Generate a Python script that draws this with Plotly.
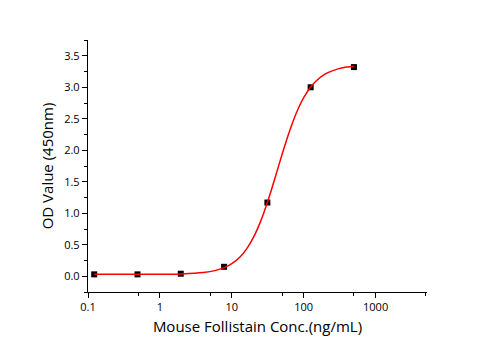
import plotly.graph_objects as go

# Measured data points
conc = [0.122, 0.488, 1.95, 7.81, 31.25, 125, 500]
od = [0.03, 0.03, 0.04, 0.15, 1.17, 3.00, 3.32]

# Fitted curve, values
curve_x = [0.122, 1, 2, 4, 6, 8, 10, 13, 16, 20, 25, 30, 35, 40, 50, 60, 70, 85, 100, 125, 150, 200, 300, 400, 500]
curve_y = [0.03, 0.032, 0.037, 0.058, 0.093, 0.140, 0.199, 0.305, 0.430, 0.616, 0.863, 1.110, 1.346,
           1.563, 1.933, 2.219, 2.438, 2.674, 2.834, 3.003, 3.104, 3.211, 3.292, 3.322, 3.335]

x_ticks = [0.1, 1, 10, 100, 1000]
x_ticktext = ["0.1", "1", "10", "100", "1000"]
x_minor = [0.5, 5, 50, 500, 5000]

font_family = "Open Sans, Noto Sans, DejaVu Sans, sans-serif"

fig = go.Figure()
fig.add_trace(go.Scatter(
    x=conc, y=od, mode="markers",
    marker=dict(symbol="square", size=6, color="black"),
    showlegend=False,
))
fig.add_trace(go.Scatter(
    x=curve_x, y=curve_y, mode="lines", line=dict(color="red", width=1.5, shape="spline"),
    showlegend=False,
))

fig.update_layout(
    width=495, height=350,
    margin=dict(l=88, r=68, t=40, b=58),
    paper_bgcolor="white", plot_bgcolor="white",
    font=dict(family=font_family, color="black"),
    xaxis=dict(
        type="log", range=[-1, 3.715],
        tickmode="array", tickvals=x_ticks, ticktext=x_ticktext,
        ticks="outside", ticklen=5, tickwidth=1.2, tickcolor="black",
        minor=dict(tickmode="array", tickvals=x_minor, ticks="outside", ticklen=3, tickwidth=1, tickcolor="black"),
        showline=True, linecolor="black", linewidth=1.3,
        showgrid=False, zeroline=False,
        tickfont=dict(size=11),
        title=dict(text="Mouse Follistain Conc.(ng/mL)", font=dict(size=15), standoff=8),
    ),
    yaxis=dict(
        range=[-0.25, 3.75], dtick=0.5, tick0=0, tickformat=".1f",
        ticks="outside", ticklen=5, tickwidth=1.2, tickcolor="black",
        minor=dict(dtick=0.25, tick0=0, ticks="outside", ticklen=3, tickwidth=1, tickcolor="black"),
        showline=True, linecolor="black", linewidth=1.3,
        showgrid=False, zeroline=False,
        tickfont=dict(size=11),
        title=dict(text="OD Value (450nm)", font=dict(size=15), standoff=6),
    ),
)

fig.write_html("out.html")
